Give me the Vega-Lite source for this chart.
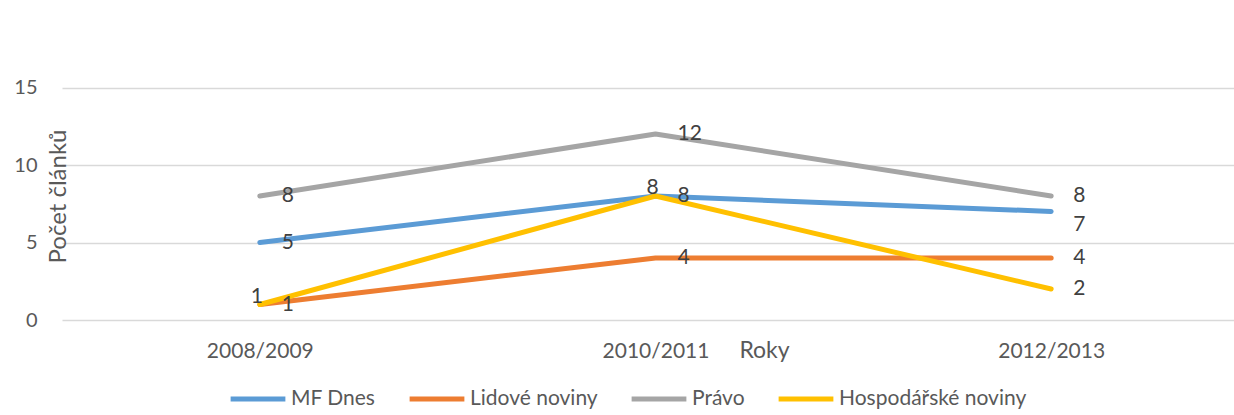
{
  "$schema": "https://vega.github.io/schema/vega-lite/v6.json",
  "autosize": "none",
  "width": 1187,
  "height": 310,
  "padding": {"left": 62, "top": 10, "right": 0, "bottom": 95},
  "background": "white",
  "config": {"view": {"stroke": null}, "font": "Lato"},
  "data": {"values": [
    {"series": "MF Dnes", "year": "2008/2009", "count": 5},
    {"series": "MF Dnes", "year": "2010/2011", "count": 8},
    {"series": "MF Dnes", "year": "2012/2013", "count": 7},
    {"series": "Lidové noviny", "year": "2008/2009", "count": 1},
    {"series": "Lidové noviny", "year": "2010/2011", "count": 4},
    {"series": "Lidové noviny", "year": "2012/2013", "count": 4},
    {"series": "Právo", "year": "2008/2009", "count": 8},
    {"series": "Právo", "year": "2010/2011", "count": 12},
    {"series": "Právo", "year": "2012/2013", "count": 8},
    {"series": "Hospodářské noviny", "year": "2008/2009", "count": 1},
    {"series": "Hospodářské noviny", "year": "2010/2011", "count": 8},
    {"series": "Hospodářské noviny", "year": "2012/2013", "count": 2}
  ]},
  "encoding": {
    "x": {"field": "year", "type": "ordinal", "scale": {"type": "point", "padding": 0.5},
      "axis": {"title": "Roky", "labelAngle": 0, "ticks": false, "domain": false, "grid": false,
        "labelFontSize": 21, "labelColor": "#595959", "labelPadding": 31, "labelBaseline": "middle",
        "titleFontSize": 23, "titleFontWeight": "normal", "titleColor": "#595959",
        "titleX": 702, "titleY": 30, "titleAlign": "center", "titleBaseline": "middle"}},
    "y": {"field": "count", "type": "quantitative", "scale": {"domain": [0, 20]},
      "axis": {"title": "Počet článků", "values": [0, 5, 10, 15], "grid": true, "gridColor": "#D9D9D9", "gridWidth": 1.5,
        "domain": false, "ticks": false, "labelPadding": 25, "labelFontSize": 20, "labelColor": "#595959",
        "titleFontSize": 24, "titleFontWeight": "normal", "titleColor": "#595959",
        "titleX": -4, "titleY": 186, "titleAngle": 270, "titleAlign": "center", "titleBaseline": "middle"}}
  },
  "layer": [
    {
      "mark": {"type": "line", "strokeWidth": 5, "strokeCap": "round", "strokeJoin": "round"},
      "encoding": {
        "color": {"field": "series", "type": "nominal",
          "scale": {"domain": ["MF Dnes", "Lidové noviny", "Právo", "Hospodářské noviny"],
                    "range": ["#5B9BD5", "#ED7D31", "#A5A5A5", "#FFC000"]},
          "legend": {"title": null, "orient": "none", "direction": "horizontal", "legendX": 166, "legendY": 359,
            "symbolType": "stroke", "symbolSize": 3000, "symbolStrokeWidth": 5, "labelFontSize": 21,
            "labelColor": "#595959", "labelOffset": 3, "columnPadding": 23, "labelLimit": 400}}
      }
    },
    {
      "transform": [{"filter": "!((datum.series == 'Hospodářské noviny' && datum.year != '2012/2013') || (datum.series == 'MF Dnes' && datum.year == '2012/2013'))"}],
      "mark": {"type": "text", "align": "left", "baseline": "middle", "dx": 22, "fontSize": 21, "color": "#404040"},
      "encoding": {"text": {"field": "count", "type": "quantitative"}}
    },
    {
      "transform": [{"filter": "datum.series == 'MF Dnes' && datum.year == '2012/2013'"}],
      "mark": {"type": "text", "align": "left", "baseline": "middle", "dx": 22, "dy": 13, "fontSize": 21, "color": "#404040"},
      "encoding": {"text": {"field": "count", "type": "quantitative"}}
    },
    {
      "transform": [{"filter": "datum.series == 'Hospodářské noviny' && datum.year != '2012/2013'"}],
      "mark": {"type": "text", "align": "center", "baseline": "middle", "dx": -3, "dy": -8, "fontSize": 21, "color": "#404040"},
      "encoding": {"text": {"field": "count", "type": "quantitative"}}
    }
  ]
}
